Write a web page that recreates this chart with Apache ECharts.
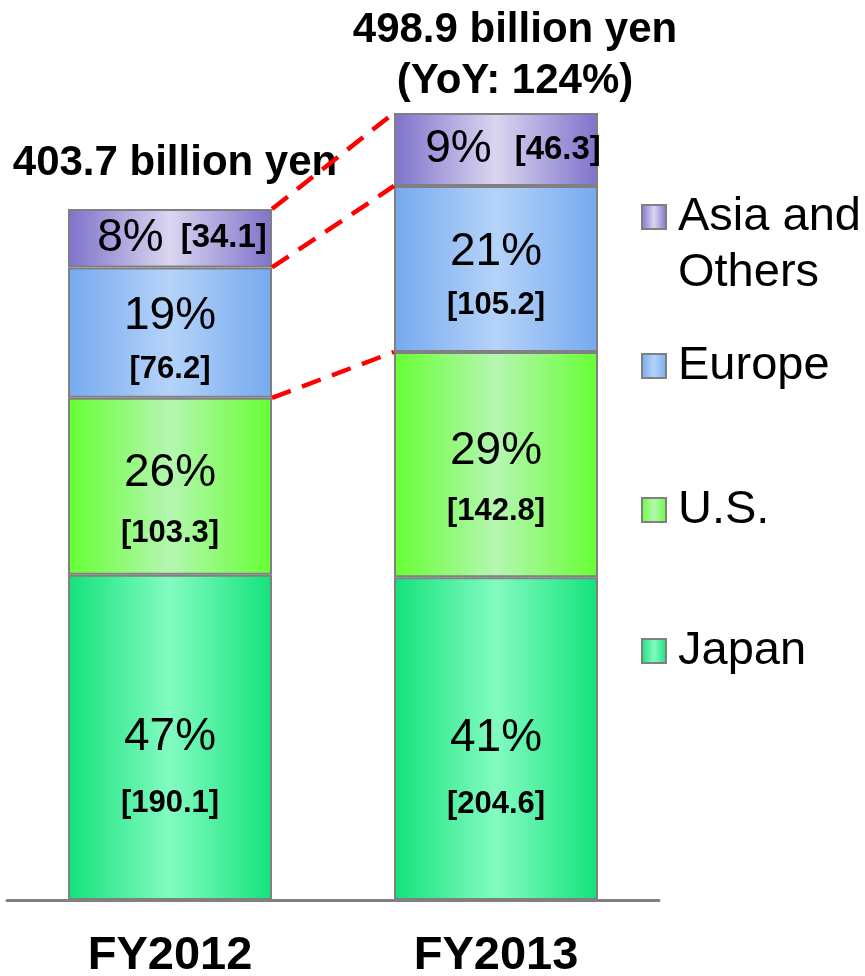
<!DOCTYPE html>
<html>
<head>
<meta charset="utf-8">
<script src="https://cdn.jsdelivr.net/npm/echarts@6/dist/echarts.min.js"></script>
<style>
  html, body { margin: 0; padding: 0; background: #fff; }
  #chart { width: 865px; height: 976px; }
</style>
</head>
<body>
<div id="chart"></div>
<script>
// data (billion yen)
const years = ['FY2012', 'FY2013'];
const regions = ['Japan', 'U.S.', 'Europe', 'Asia and Others'];
const sales2012 = [190.1, 103.3, 76.2, 34.1];
const sales2013 = [204.6, 142.8, 105.2, 46.3];
const share2012 = [47, 26, 19, 8];
const share2013 = [41, 29, 21, 9];
const totals = [403.7, 498.9];
const yoy = 124;

const FONT = "'Liberation Sans', Arial, sans-serif";
const barWidth = 204;
// the slide draws each bar on its own scale
const yMax = [467.4, 507.1];

const palette = {
  'Japan': ['#14e27a', '#82fbc1'],
  'U.S.': ['#66ff33', '#b5f6b1'],
  'Europe': ['#76a9ef', '#b5d3f9'],
  'Asia and Others': ['#7e72cb', '#dad6f0']
};
// line height / vertical shift of the two-line labels
const labelLayout = {
  'Japan': { lh: 66, dy: 33 },
  'U.S.': { lh: 60, dy: 17 },
  'Europe': { lh: 53, dy: 10 }
};
const asiaDx = [12, 17];
const asiaGap = [17, 23];

function grad(c) {
  return new echarts.graphic.LinearGradient(0, 0, 1, 0, [
    { offset: 0, color: c[0] },
    { offset: 0.5, color: c[1] },
    { offset: 1, color: c[0] }
  ]);
}

const salesByYear = [sales2012, sales2013];
const shareByYear = [share2012, share2013];

let series = [];
years.forEach((yr, yi) => {
  regions.forEach((name, ri) => {
    const data = years.map((_, k) => k === yi ? salesByYear[yi][ri] : '-');
    const isAsia = name === 'Asia and Others';
    const lay = labelLayout[name];
    series.push({
      name: name,
      type: 'bar',
      stack: 'y' + yi,
      yAxisIndex: yi,
      barWidth: barWidth,
      barGap: '-100%',
      data: data,
      itemStyle: { color: grad(palette[name]), borderColor: '#808080', borderWidth: 2 },
      label: {
        show: true,
        position: 'inside',
        offset: isAsia ? [asiaDx[yi], 0] : [0, lay.dy],
        fontFamily: FONT,
        color: '#000',
        formatter: () => {
          const pct = shareByYear[yi][ri] + '%';
          const val = '[' + salesByYear[yi][ri].toFixed(1) + ']';
          return isAsia ? `{p|${pct}}{v|${val}}` : `{p|${pct}}\n{v|${val}}`;
        },
        rich: {
          p: { fontFamily: FONT, fontSize: 46, lineHeight: isAsia ? 56 : lay.lh, color: '#000' },
          v: isAsia
            ? { fontFamily: FONT, fontSize: 33, fontWeight: 'bold', lineHeight: 56, color: '#000', padding: [0, 0, 0, asiaGap[yi]] }
            : { fontFamily: FONT, fontSize: 31, fontWeight: 'bold', lineHeight: lay.lh, color: '#000' }
        }
      }
    });
  });
  // zero-height cap that carries the total label
  series.push({
    name: 'total' + yi,
    type: 'bar',
    stack: 'y' + yi,
    yAxisIndex: yi,
    barWidth: barWidth,
    barGap: '-100%',
    data: years.map((_, k) => k === yi ? 0 : '-'),
    itemStyle: { color: 'rgba(0,0,0,0)', borderWidth: 0 },
    label: {
      show: true,
      position: 'top',
      distance: yi ? 6 : 20,
      offset: yi ? [19, 0] : [5, 0],
      fontFamily: FONT,
      fontSize: 42,
      fontWeight: 'bold',
      lineHeight: 51,
      color: '#000',
      formatter: () => yi
        ? totals[1].toFixed(1) + ' billion yen\n(YoY: ' + yoy + '%)'
        : totals[0].toFixed(1) + ' billion yen'
    }
  });
});

// one legend per region so the spacing can follow the slide
const legendTops = { 'Asia and Others': 133, 'Europe': 338, 'U.S.': 482, 'Japan': 623 };
const legends = ['Asia and Others', 'Europe', 'U.S.', 'Japan'].map(name => ({
  data: [name],
  left: 641,
  top: legendTops[name],
  padding: 0,
  orient: 'vertical',
  itemWidth: 24,
  itemHeight: 24,
  icon: 'rect',
  itemStyle: { borderColor: '#808080', borderWidth: 2 },
  // leading blank line keeps the icon level with "Asia and"
  formatter: (n) => n === 'Asia and Others' ? '\nAsia and\nOthers' : n,
  textStyle: {
    fontFamily: FONT,
    fontSize: 47,
    color: '#000',
    lineHeight: 56,
    padding: [0, 0, 0, 7]
  }
}));

const option = {
  animation: false,
  backgroundColor: '#fff',
  grid: { left: 7, right: 206, top: 100, bottom: 76, containLabel: false, outerBoundsMode: 'none' },
  xAxis: {
    type: 'category',
    data: years,
    axisLine: { lineStyle: { color: '#808080', width: 3 } },
    axisTick: { show: false },
    axisLabel: { fontFamily: FONT, fontSize: 47, fontWeight: 'bold', color: '#000', margin: 33 }
  },
  yAxis: [
    { type: 'value', min: 0, max: yMax[0], show: false, splitLine: { show: false } },
    { type: 'value', min: 0, max: yMax[1], show: false, splitLine: { show: false } }
  ],
  legend: legends,
  series: series
};

const chart = echarts.init(document.getElementById('chart'));
chart.setOption(option);

// red dashed connectors between matching segment tops
const cum = (arr, n) => arr.slice(0, n).reduce((a, b) => a + b, 0);
const x12 = chart.convertToPixel({ xAxisIndex: 0 }, years[0]) + barWidth / 2;
const x13 = chart.convertToPixel({ xAxisIndex: 0 }, years[1]) - barWidth / 2;
const links = [2, 3, 4].map(n => ({
  type: 'line',
  z: 100,
  shape: {
    x1: x12, y1: chart.convertToPixel({ yAxisIndex: 0 }, cum(sales2012, n)),
    x2: x13, y2: chart.convertToPixel({ yAxisIndex: 1 }, cum(sales2013, n))
  },
  style: { stroke: '#ff0000', lineWidth: 4.5, lineDash: [20, 12] }
}));
chart.setOption({ graphic: links });

window.onresize = () => chart.resize();
</script>
</body>
</html>
